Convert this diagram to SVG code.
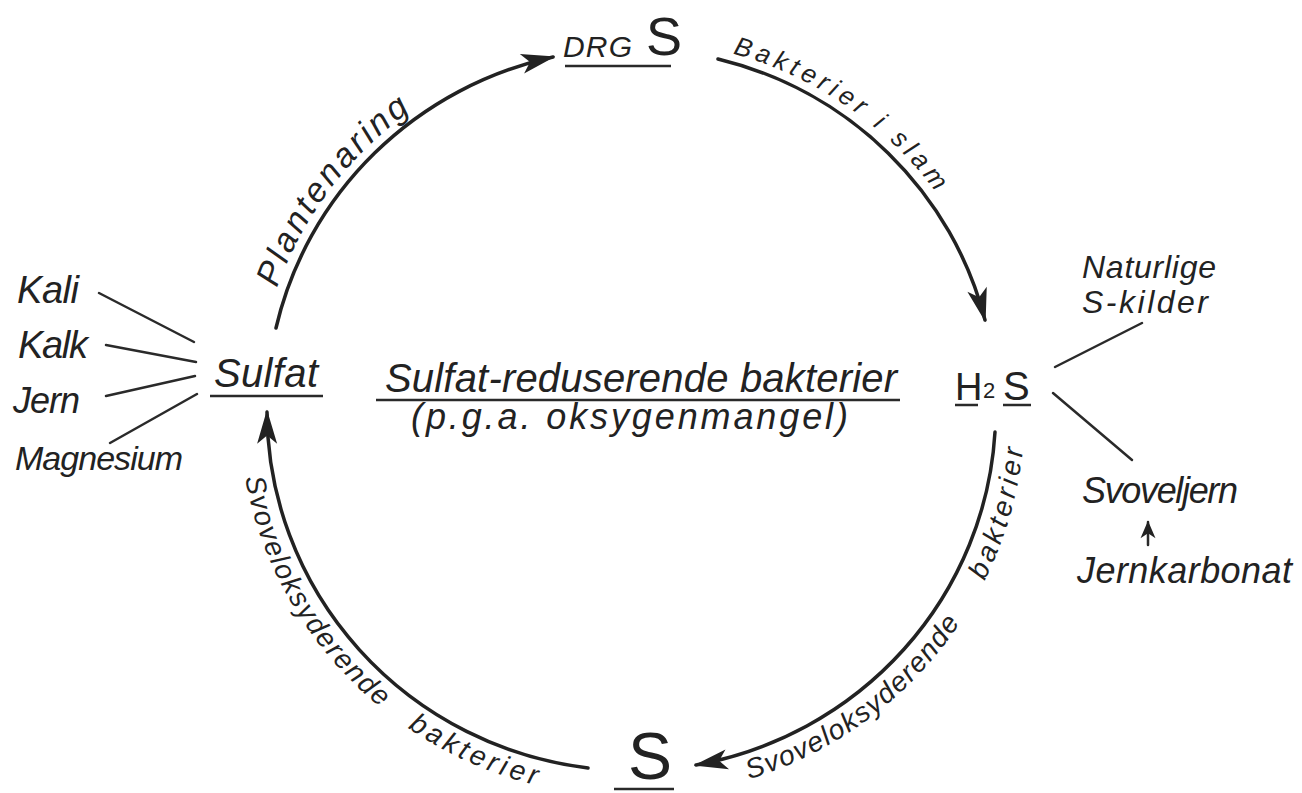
<svg xmlns="http://www.w3.org/2000/svg" width="1302" height="793" viewBox="0 0 1302 793">
<style>
  .t { font-family: "Liberation Sans", "DejaVu Sans", sans-serif; font-style: italic; fill: #222; }
  .up { font-style: normal; }
  .arc { fill: none; stroke: #222; stroke-width: 3.5; stroke-linecap: round; }
  .ln { fill: none; stroke: #2a2a2a; stroke-width: 2.5; stroke-linecap: round; }
  .ul { fill: none; stroke: #2a2a2a; stroke-width: 2.5; }
  .guide { fill: none; stroke: none; }
</style>
<defs>
  <marker id="ah" markerUnits="userSpaceOnUse" markerWidth="40" markerHeight="30" viewBox="-30 -12 34 24" refX="0" refY="0" orient="auto">
    <path d="M2,0 L-27,-8.5 L-20,0 L-27,8.5 Z" fill="#222"/>
  </marker>
  <marker id="ahs" markerUnits="userSpaceOnUse" markerWidth="24" markerHeight="20" viewBox="-16 -8 18 16" refX="0" refY="0" orient="auto">
    <path d="M1,0 L-13,-6 L-9,0 L-13,6 Z" fill="#222"/>
  </marker>
  <path id="p1" class="guide" d="M274.4,295.7 A376,370 0 0,1 444,89.6"/>
  <path id="p2" class="guide" d="M723,51 A376,370 0 0,1 964,236.3"/>
  <path id="p3" class="guide" d="M733.7,783.8 A393,387 0 0,0 1024.4,430.2"/>
  <path id="p4" class="guide" d="M242.8,463.9 A393,387 0 0,0 563.8,791.1"/>
</defs>
<rect x="0" y="0" width="1302" height="793" fill="#ffffff"/>

<g id="connectors">
  <path class="arc" d="M276,328 A366,360 0 0,1 553,57" marker-end="url(#ah)"/>
  <path class="arc" d="M718,59 A366,360 0 0,1 985,320" marker-end="url(#ah)"/>
  <path class="arc" d="M995,432 A366,360 0 0,1 696,765" marker-end="url(#ah)"/>
  <path class="arc" d="M588,768 A366,360 0 0,1 267,412" marker-end="url(#ah)"/>
  <line class="ln" x1="99" y1="293" x2="194" y2="342"/>
  <line class="ln" x1="106" y1="345" x2="196" y2="362"/>
  <line class="ln" x1="106" y1="396" x2="195" y2="376"/>
  <line class="ln" x1="110" y1="443" x2="197" y2="394"/>
  <line class="ln" x1="1055" y1="367" x2="1142" y2="323"/>
  <line class="ln" x1="1053" y1="393" x2="1132" y2="460"/>
  <line class="ln" x1="1148" y1="545" x2="1148" y2="522" marker-end="url(#ahs)"/>
  <text class="t" font-size="34"><textPath href="#p1" startOffset="8" textLength="225">Plantenaring</textPath></text>
  <text class="t" font-size="26"><textPath href="#p2" startOffset="10" textLength="250">Bakterier i slam</textPath></text>
  <text class="t" font-size="28"><textPath href="#p3" startOffset="16" textLength="268">Svoveloksyderende</textPath><textPath href="#p3" startOffset="321" textLength="150"> bakterier</textPath></text>
  <text class="t" font-size="28"><textPath href="#p4" startOffset="14" textLength="272">Svoveloksyderende</textPath><textPath href="#p4" startOffset="308" textLength="153"> bakterier</textPath></text>
</g>

<g id="node-drgs">
  <text class="t" x="563" y="57" font-size="30" textLength="69">DRG</text>
  <text class="t up" x="646" y="55" font-size="54" textLength="29">S</text>
  <line class="ul" x1="565" y1="66" x2="671" y2="66"/>
</g>

<g id="node-h2s">
  <text class="t up" x="955" y="400" font-size="38" textLength="23">H</text>
  <text class="t up" x="983" y="398" font-size="22">2</text>
  <text class="t up" x="1003" y="400" font-size="40" textLength="27">S</text>
  <line class="ul" x1="955" y1="405" x2="978" y2="405"/>
  <line class="ul" x1="1003" y1="405" x2="1031" y2="405"/>
</g>

<g id="node-s">
  <text class="t up" x="628" y="779" font-size="66" textLength="34">S</text>
  <line class="ul" x1="614" y1="789" x2="674" y2="789"/>
</g>

<g id="node-sulfat">
  <text class="t" x="214" y="387" font-size="40" textLength="104">Sulfat</text>
  <line class="ul" x1="210" y1="396" x2="323" y2="396"/>
</g>

<g id="node-center">
  <text class="t" x="385" y="392" font-size="40" textLength="512">Sulfat-reduserende bakterier</text>
  <line class="ul" x1="376" y1="400" x2="900" y2="400"/>
  <text class="t" x="411" y="429" font-size="36" textLength="437">(p.g.a. oksygenmangel)</text>
</g>

<g id="node-kali"><text class="t" x="17" y="303" font-size="38" textLength="62">Kali</text></g>
<g id="node-kalk"><text class="t" x="18" y="358" font-size="38" textLength="70">Kalk</text></g>
<g id="node-jern"><text class="t" x="13" y="413" font-size="36" textLength="67">Jern</text></g>
<g id="node-magnesium"><text class="t" x="15" y="470" font-size="34" textLength="168">Magnesium</text></g>

<g id="node-naturlige">
  <text class="t" x="1082" y="278" font-size="32" textLength="134">Naturlige</text>
  <text class="t" x="1082" y="313" font-size="32" textLength="126">S-kilder</text>
</g>
<g id="node-svoveljern"><text class="t" x="1082" y="503" font-size="36" textLength="156">Svoveljern</text></g>
<g id="node-jernkarbonat"><text class="t" x="1077" y="583" font-size="36" textLength="215">Jernkarbonat</text></g>
</svg>
